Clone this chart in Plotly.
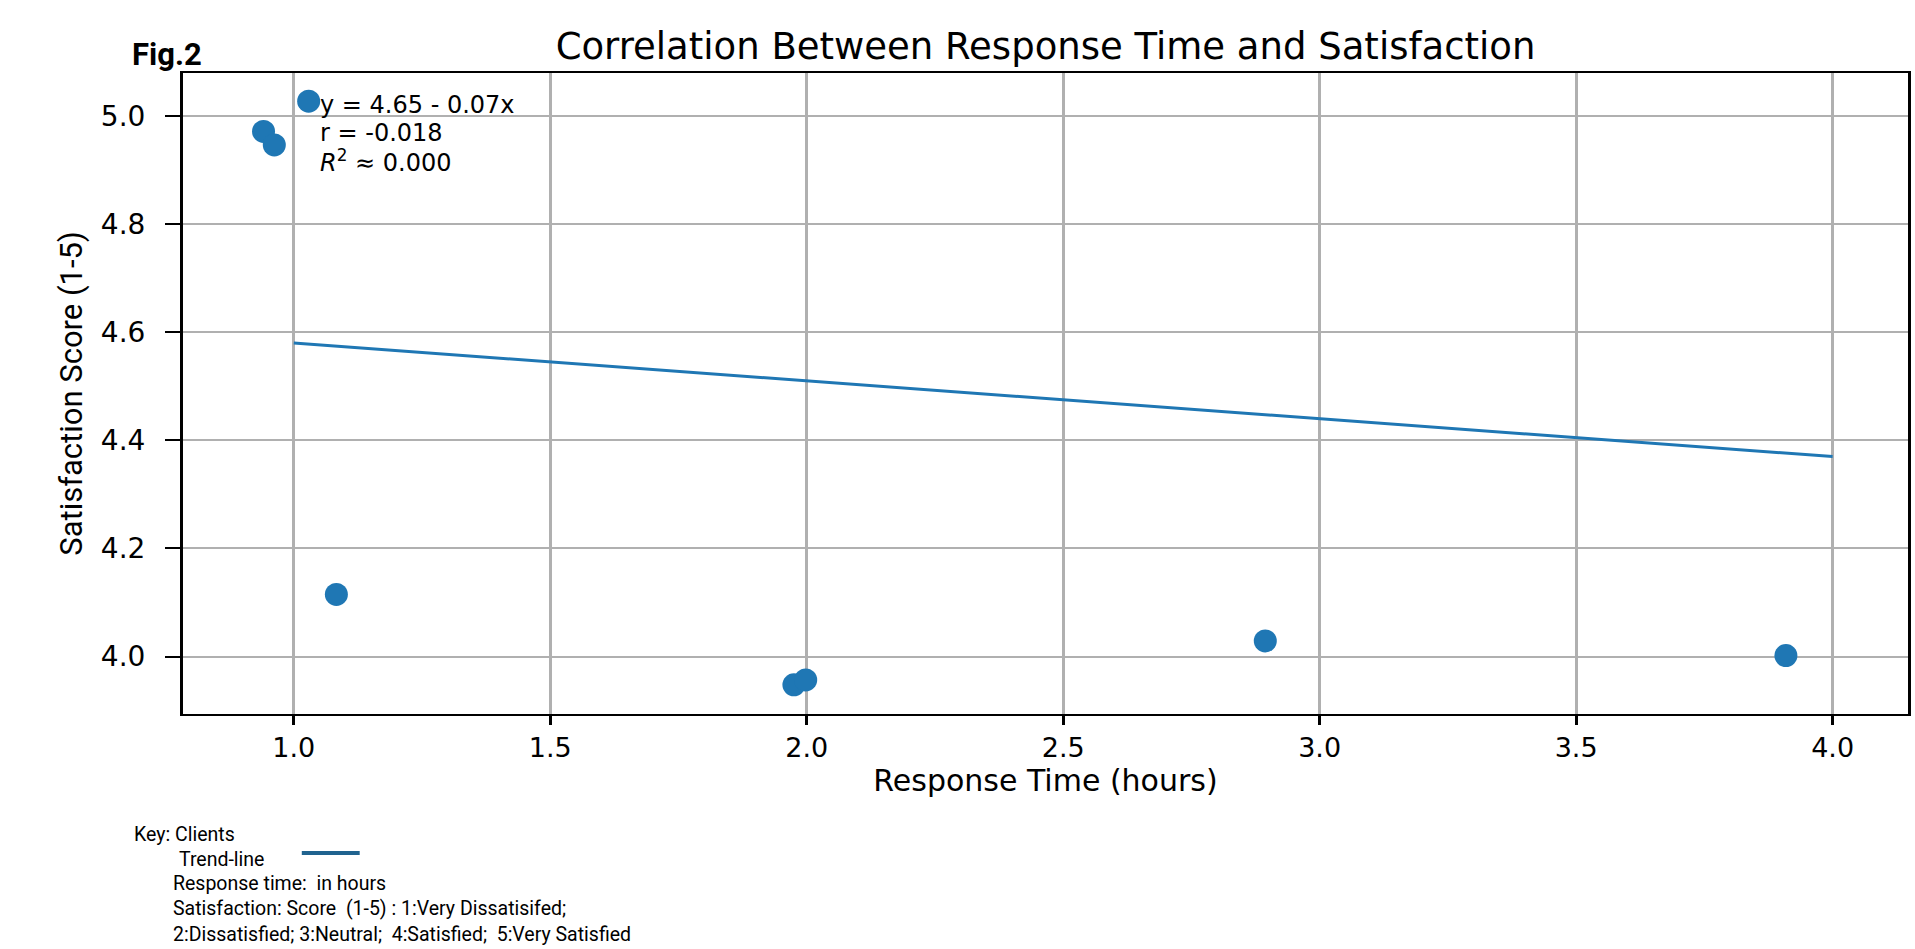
import plotly.graph_objects as go

# ---------------- data ----------------
response_time = [1.029, 0.941, 0.962, 1.083, 1.975, 1.998, 2.894, 3.909]
satisfaction = [5.027, 4.971, 4.946, 4.115, 3.948, 3.957, 4.029, 4.002]

trend_x = [1.0, 4.0]
trend_intercept = 4.65
trend_slope = -0.07

x_ticks = [1.0, 1.5, 2.0, 2.5, 3.0, 3.5, 4.0]
y_ticks = [4.0, 4.2, 4.4, 4.6, 4.8, 5.0]

title_text = "Correlation Between Response Time and Satisfaction"
x_title = "Response Time (hours)"
y_title = "Satisfaction Score (1-5)"
fig_label = "Fig.2"
stats_lines = ["y = 4.65 - 0.07x", "r = -0.018", "<i>R</i><sup>2</sup> \u2248 0.000"]
key_lines = [
    "Key: Clients",
    "Trend-line",
    "Response time:  in hours",
    "Satisfaction: Score  (1-5) : 1:Very Dissatisifed;",
    "2:Dissatisfied; 3:Neutral;  4:Satisfied;  5:Very Satisfied",
]

# ---------------- layout geometry (pixels) ----------------
W, H = 1915, 949
L, R, T, B = 183, 1911, 73, 714   # plot area edges


def px_x(p):
    return (p - L) / (R - L)


def px_y(p):
    return (B - p) / (B - T)


BLUE = "#1f77b4"
DEJAVU = "DejaVu Sans"
NARROW = "Liberation Sans Narrow, Roboto, sans-serif"

trend_y = [trend_intercept + trend_slope * x for x in trend_x]

fig = go.Figure()
fig.add_trace(go.Scatter(
    x=trend_x, y=trend_y, mode="lines",
    line=dict(color=BLUE, width=3), name="Trend-line", hoverinfo="skip",
))
fig.add_trace(go.Scatter(
    x=response_time, y=satisfaction, mode="markers",
    marker=dict(color=BLUE, size=23, line=dict(width=0)), name="Clients",
))

fig.update_layout(
    width=W, height=H,
    margin=dict(l=L, r=W - R, t=T, b=H - B, pad=0),
    paper_bgcolor="white", plot_bgcolor="white",
    showlegend=False,
    title=dict(text=title_text, x=0.5, xref="paper", xanchor="center",
               y=1 - 46 / H, yref="container", yanchor="middle",
               font=dict(family=DEJAVU, size=37, color="black")),
)

fig.update_xaxes(
    range=[0.784, 4.147], tickvals=x_ticks, tickformat=".1f",
    showgrid=True, gridcolor="#b0b0b0", gridwidth=3,
    showline=True, linecolor="black", linewidth=2, mirror=True,
    ticks="outside", ticklen=9, tickwidth=3, tickcolor="black",
    tickfont=dict(family=DEJAVU, size=27, color="black"),
    title=dict(text=x_title, font=dict(family=DEJAVU, size=30, color="black"), standoff=0),
    zeroline=False,
)
fig.update_yaxes(
    range=[3.894, 5.079], tickvals=y_ticks, tickformat=".1f",
    showgrid=True, gridcolor="#b0b0b0", gridwidth=2,
    showline=True, linecolor="black", linewidth=3, mirror=True,
    ticks="outside", ticklen=15, tickwidth=2, tickcolor="black",
    ticklabelstandoff=14,
    tickfont=dict(family=DEJAVU, size=28, color="black"),
    title=dict(text=y_title, font=dict(family=NARROW, size=31, color="black"), standoff=10),
    zeroline=False,
)

# regression statistics text
stat_centers = [105, 133, 161]
for txt, cy in zip(stats_lines, stat_centers):
    fig.add_annotation(text=txt, xref="paper", yref="paper",
                       x=px_x(318), y=px_y(cy), xanchor="left", yanchor="middle",
                       showarrow=False, font=dict(family=DEJAVU, size=24, color="black"))

# figure label
fig.add_annotation(text="<b>" + fig_label + "</b>", xref="paper", yref="paper",
                   x=px_x(130), y=px_y(54), xanchor="left", yanchor="middle",
                   showarrow=False, font=dict(family=NARROW, size=31, color="black"))

# key block
key_pos = [(132, 834), (177, 859), (171, 884), (171, 909), (171, 934)]
for txt, (kx, ky) in zip(key_lines, key_pos):
    fig.add_annotation(text=txt, xref="paper", yref="paper",
                       x=px_x(kx), y=px_y(ky), xanchor="left", yanchor="middle",
                       showarrow=False, font=dict(family=NARROW, size=19.5, color="black"))

fig.add_shape(type="line", xref="paper", yref="paper",
              x0=px_x(302), x1=px_x(360), y0=px_y(853), y1=px_y(853),
              line=dict(color="#20638f", width=4))

fig.write_html("out.html", config={"displayModeBar": False},
               post_script="document.body.style.margin='0';")
